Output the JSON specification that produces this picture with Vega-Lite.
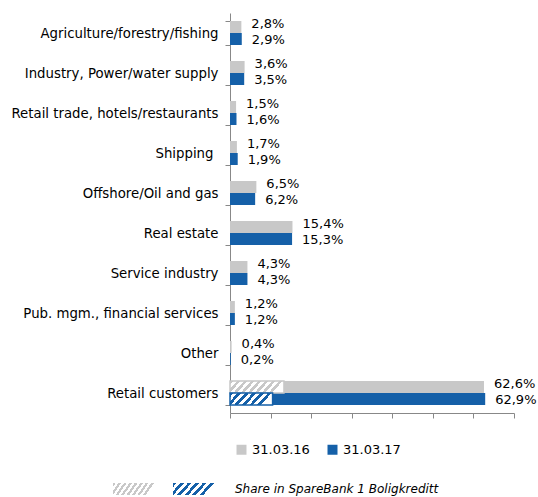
{
  "$schema": "https://vega.github.io/schema/vega-lite/v6.json",
  "autosize": {"type": "none"},
  "padding": {"left": 230, "top": 13, "right": 24, "bottom": 84},
  "width": 284,
  "height": 400,
  "background": "white",
  "config": {
    "view": {"stroke": null},
    "font": "DejaVu Sans",
    "axis": {"labelFont": "DejaVu Sans", "grid": false}
  },
  "resolve": {"scale": {"opacity": "independent"}, "legend": {"opacity": "independent"}},
  "datasets": {
    "shares": [
      {"category": "Agriculture/forestry/fishing", "series": "31.03.16", "value": 2.8, "label": "2,8%"},
      {"category": "Agriculture/forestry/fishing", "series": "31.03.17", "value": 2.9, "label": "2,9%"},
      {"category": "Industry, Power/water supply", "series": "31.03.16", "value": 3.6, "label": "3,6%"},
      {"category": "Industry, Power/water supply", "series": "31.03.17", "value": 3.5, "label": "3,5%"},
      {"category": "Retail trade, hotels/restaurants", "series": "31.03.16", "value": 1.5, "label": "1,5%"},
      {"category": "Retail trade, hotels/restaurants", "series": "31.03.17", "value": 1.6, "label": "1,6%"},
      {"category": "Shipping", "series": "31.03.16", "value": 1.7, "label": "1,7%"},
      {"category": "Shipping", "series": "31.03.17", "value": 1.9, "label": "1,9%"},
      {"category": "Offshore/Oil and gas", "series": "31.03.16", "value": 6.5, "label": "6,5%"},
      {"category": "Offshore/Oil and gas", "series": "31.03.17", "value": 6.2, "label": "6,2%"},
      {"category": "Real estate", "series": "31.03.16", "value": 15.4, "label": "15,4%"},
      {"category": "Real estate", "series": "31.03.17", "value": 15.3, "label": "15,3%"},
      {"category": "Service industry", "series": "31.03.16", "value": 4.3, "label": "4,3%"},
      {"category": "Service industry", "series": "31.03.17", "value": 4.3, "label": "4,3%"},
      {"category": "Pub. mgm., financial services", "series": "31.03.16", "value": 1.2, "label": "1,2%"},
      {"category": "Pub. mgm., financial services", "series": "31.03.17", "value": 1.2, "label": "1,2%"},
      {"category": "Other", "series": "31.03.16", "value": 0.4, "label": "0,4%"},
      {"category": "Other", "series": "31.03.17", "value": 0.2, "label": "0,2%"},
      {"category": "Retail customers", "series": "31.03.16", "value": 62.6, "label": "62,6%"},
      {"category": "Retail customers", "series": "31.03.17", "value": 62.9, "label": "62,9%"}
    ],
    "boligkreditt": [
      {"category": "Retail customers", "series": "31.03.16", "group": "31.03.16 Boligkreditt", "value": 13.3},
      {"category": "Retail customers", "series": "31.03.17", "group": "31.03.17 Boligkreditt", "value": 10.5}
    ]
  },
  "encoding": {
    "y": {
      "field": "category", "type": "nominal", "sort": null, "title": null,
      "scale": {"paddingInner": 0.4, "paddingOuter": 0.2},
      "axis": {
        "tickBand": "extent", "domainColor": "#888888", "tickColor": "#888888",
        "tickSize": 5, "labelFontSize": 13.3, "labelColor": "#000000",
        "labelPadding": {"condition": {"test": "datum.value == 'Shipping'", "value": 12}, "value": 7},
        "labelLimit": 300
      }
    },
    "yOffset": {"field": "series", "type": "nominal", "sort": ["31.03.16", "31.03.17"]}
  },
  "layer": [
    {
      "data": {"name": "shares"},
      "mark": {"type": "bar"},
      "encoding": {
        "x": {
          "field": "value", "type": "quantitative", "title": null,
          "scale": {"domain": [0, 70], "nice": false},
          "axis": {
            "values": [0, 10, 20, 30, 40, 50, 60, 70], "labels": false,
            "domainColor": "#888888", "tickColor": "#888888", "tickSize": 5
          }
        },
        "color": {
          "field": "series", "type": "nominal",
          "scale": {"domain": ["31.03.16", "31.03.17"], "range": ["#C8C8C8", "#1560A8"]},
          "legend": {
            "title": null, "orient": "none", "direction": "horizontal",
            "legendX": 5, "legendY": 430, "padding": 0,
            "symbolType": "square", "symbolSize": 100, "symbolStrokeWidth": 0,
            "symbolOpacity": 1,
            "labelFontSize": 13, "labelFont": "DejaVu Sans", "labelColor": "#000000",
            "labelOffset": 4, "columnPadding": 16
          }
        }
      }
    },
    {
      "data": {"name": "boligkreditt"},
      "transform": [{"filter": "datum.series == '31.03.16'"}],
      "mark": {"type": "bar", "stroke": "#C8C8C8", "strokeWidth": 1.5,
        "fill": {"gradient": "linear", "x1": 0, "y1": 0, "x2": 1, "y2": 0.2, "stops": [
                {"offset": 0, "color": "#C8C8C8"}, {"offset": 0.0625, "color": "#C8C8C8"},
                {"offset": 0.0625, "color": "#FFFFFF"}, {"offset": 0.125, "color": "#FFFFFF"},
                {"offset": 0.125, "color": "#C8C8C8"}, {"offset": 0.1875, "color": "#C8C8C8"},
                {"offset": 0.1875, "color": "#FFFFFF"}, {"offset": 0.25, "color": "#FFFFFF"},
                {"offset": 0.25, "color": "#C8C8C8"}, {"offset": 0.3125, "color": "#C8C8C8"},
                {"offset": 0.3125, "color": "#FFFFFF"}, {"offset": 0.375, "color": "#FFFFFF"},
                {"offset": 0.375, "color": "#C8C8C8"}, {"offset": 0.4375, "color": "#C8C8C8"},
                {"offset": 0.4375, "color": "#FFFFFF"}, {"offset": 0.5, "color": "#FFFFFF"},
                {"offset": 0.5, "color": "#C8C8C8"}, {"offset": 0.5625, "color": "#C8C8C8"},
                {"offset": 0.5625, "color": "#FFFFFF"}, {"offset": 0.625, "color": "#FFFFFF"},
                {"offset": 0.625, "color": "#C8C8C8"}, {"offset": 0.6875, "color": "#C8C8C8"},
                {"offset": 0.6875, "color": "#FFFFFF"}, {"offset": 0.75, "color": "#FFFFFF"},
                {"offset": 0.75, "color": "#C8C8C8"}, {"offset": 0.8125, "color": "#C8C8C8"},
                {"offset": 0.8125, "color": "#FFFFFF"}, {"offset": 0.875, "color": "#FFFFFF"},
                {"offset": 0.875, "color": "#C8C8C8"}, {"offset": 0.9375, "color": "#C8C8C8"},
                {"offset": 0.9375, "color": "#FFFFFF"}, {"offset": 1, "color": "#FFFFFF"}
              ]}},
      "encoding": {
        "x": {"field": "value", "type": "quantitative"},
        "opacity": {
          "field": "group", "type": "nominal",
          "scale": {"range": [1, 1]},
          "legend": {
            "title": null, "orient": "none", "direction": "horizontal",
            "legendX": -117, "legendY": 455, "padding": 0,
            "symbolType": "M-1,-0.2857H1V0.2857H-1Z", "symbolSize": 1764,
            "symbolStrokeWidth": 0, "symbolOpacity": 1,
            "labelExpr": "''", "labelFontSize": 12, "labelOffset": 0
          }
        }
      }
    },
    {
      "data": {"name": "boligkreditt"},
      "transform": [{"filter": "datum.series == '31.03.17'"}],
      "mark": {"type": "bar", "stroke": "#1560A8", "strokeWidth": 1.5,
        "fill": {"gradient": "linear", "x1": 0, "y1": 0, "x2": 1, "y2": 0.26, "stops": [
                {"offset": 0, "color": "#1560A8"}, {"offset": 0.0833, "color": "#1560A8"},
                {"offset": 0.0833, "color": "#FFFFFF"}, {"offset": 0.1667, "color": "#FFFFFF"},
                {"offset": 0.1667, "color": "#1560A8"}, {"offset": 0.25, "color": "#1560A8"},
                {"offset": 0.25, "color": "#FFFFFF"}, {"offset": 0.3333, "color": "#FFFFFF"},
                {"offset": 0.3333, "color": "#1560A8"}, {"offset": 0.4167, "color": "#1560A8"},
                {"offset": 0.4167, "color": "#FFFFFF"}, {"offset": 0.5, "color": "#FFFFFF"},
                {"offset": 0.5, "color": "#1560A8"}, {"offset": 0.5833, "color": "#1560A8"},
                {"offset": 0.5833, "color": "#FFFFFF"}, {"offset": 0.6667, "color": "#FFFFFF"},
                {"offset": 0.6667, "color": "#1560A8"}, {"offset": 0.75, "color": "#1560A8"},
                {"offset": 0.75, "color": "#FFFFFF"}, {"offset": 0.8333, "color": "#FFFFFF"},
                {"offset": 0.8333, "color": "#1560A8"}, {"offset": 0.9167, "color": "#1560A8"},
                {"offset": 0.9167, "color": "#FFFFFF"}, {"offset": 1, "color": "#FFFFFF"}
              ]}},
      "encoding": {
        "x": {"field": "value", "type": "quantitative"},
        "opacity": {
          "field": "group", "type": "nominal",
          "scale": {"range": [1, 1]},
          "legend": {
            "title": null, "orient": "none", "direction": "horizontal",
            "legendX": -57, "legendY": 455, "padding": 0,
            "symbolType": "M-1,-0.2857H1V0.2857H-1Z", "symbolSize": 1764,
            "symbolStrokeWidth": 0, "symbolOpacity": 1,
            "labelExpr": "'Share in SpareBank 1 Boligkreditt'",
            "labelFontSize": 12, "labelFont": "DejaVu Sans", "labelFontStyle": "italic",
            "labelColor": "#000000", "labelOffset": 20, "labelLimit": 400
          }
        }
      }
    },
    {
      "data": {"name": "shares"},
      "transform": [{"filter": "datum.series == '31.03.16'"}],
      "mark": {"type": "text", "align": "left", "baseline": "middle", "dx": 10, "dy": -3, "fontSize": 13, "font": "DejaVu Sans", "color": "#000000"},
      "encoding": {
        "x": {"field": "value", "type": "quantitative"},
        "text": {"field": "label", "type": "nominal"}
      }
    },
    {
      "data": {"name": "shares"},
      "transform": [{"filter": "datum.series == '31.03.17'"}],
      "mark": {"type": "text", "align": "left", "baseline": "middle", "dx": 10, "dy": 1, "fontSize": 13, "font": "DejaVu Sans", "color": "#000000"},
      "encoding": {
        "x": {"field": "value", "type": "quantitative"},
        "text": {"field": "label", "type": "nominal"}
      }
    }
  ]
}
